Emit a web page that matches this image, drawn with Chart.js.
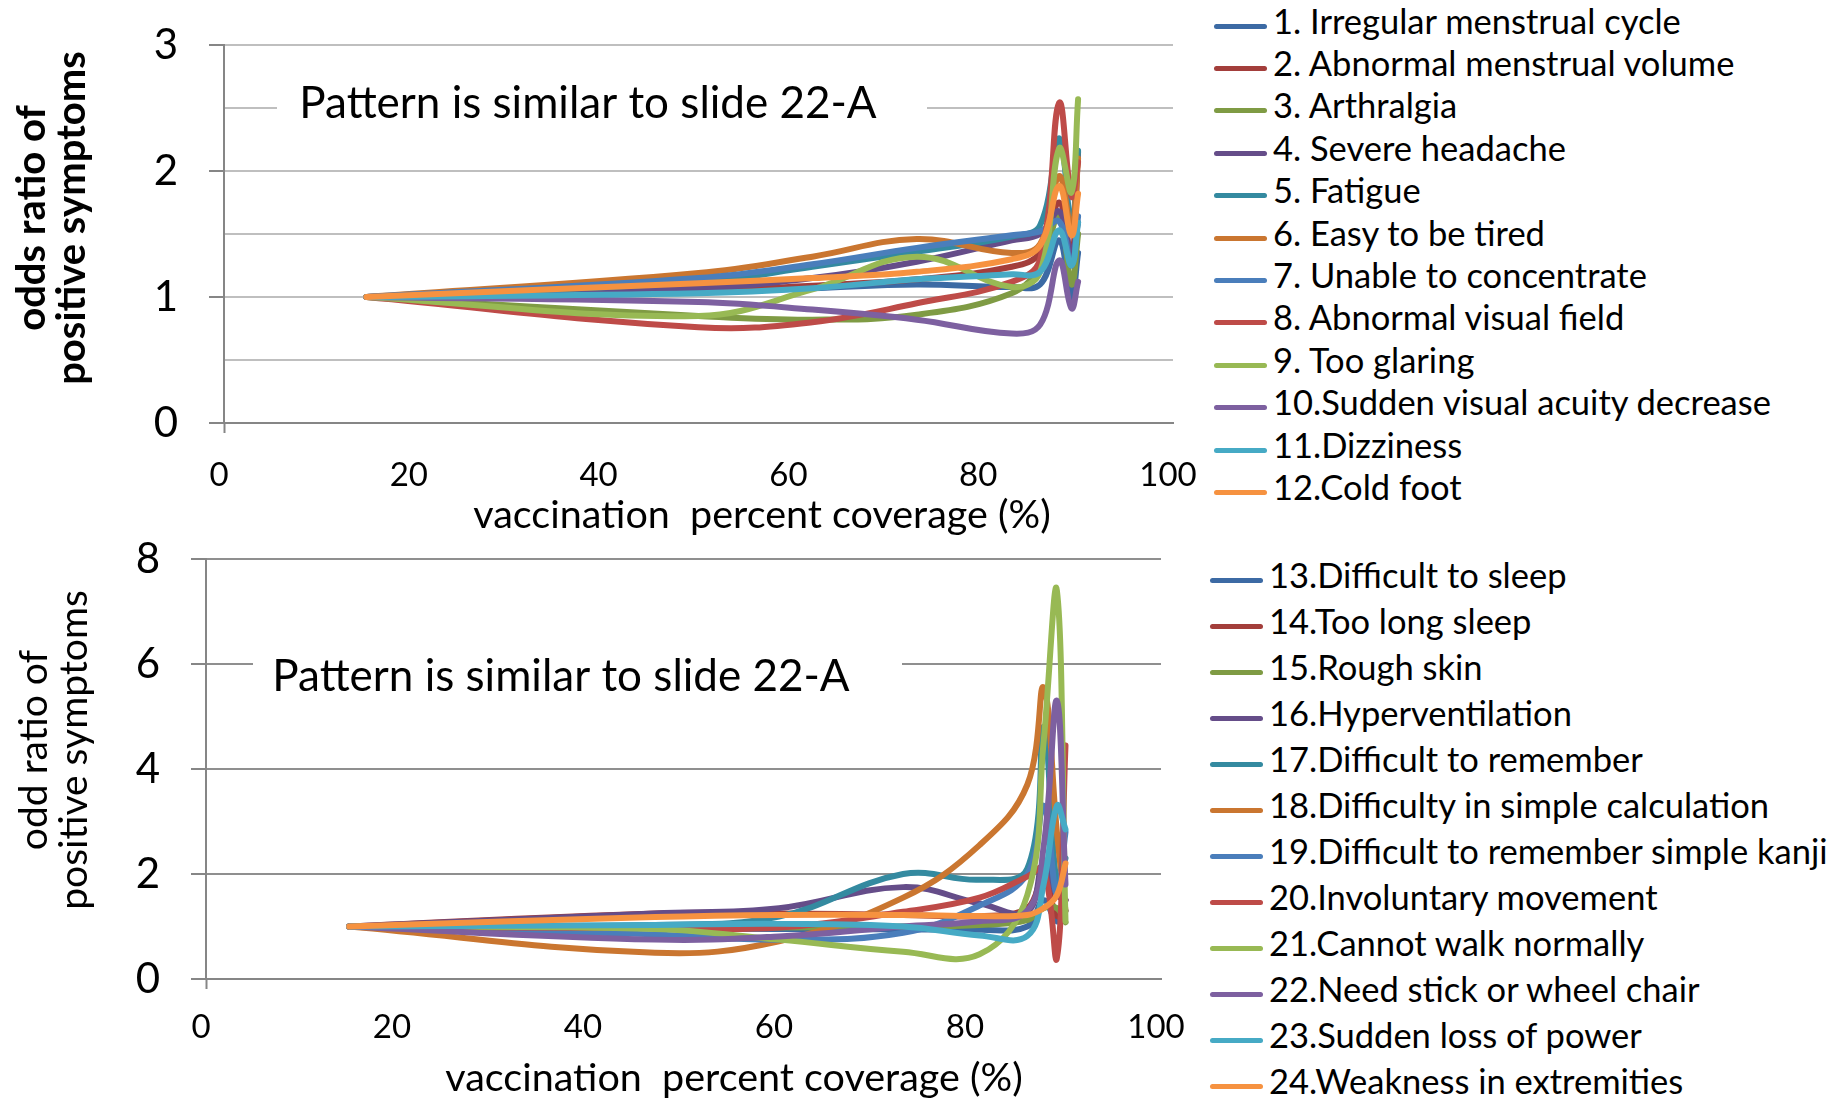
<!DOCTYPE html>
<html>
<head>
<meta charset="utf-8">
<script src="https://cdn.jsdelivr.net/npm/chart.js@4.4.0/dist/chart.umd.min.js"></script>
<style>
body { margin: 0; background: #fff; width: 1848px; height: 1104px; overflow: hidden; font-family: Lato, "Open Sans", sans-serif; }
canvas { position: absolute; left: 0; }
#topChart { top: 0; }
#botChart { top: 520px; }
.legend { position: absolute; }
.legend .item { display: flex; align-items: center; font-size: 34.5px; white-space: nowrap; color: #000; }
.legend .swatch { width: 53px; height: 5px; border-radius: 3px; margin-right: 6px; position: relative; top: 6px; }
</style>
</head>
<body>
<canvas id="topChart" width="1200" height="560"></canvas>
<canvas id="botChart" width="1200" height="584"></canvas>
<div class="legend" id="topLegend" style="left:1214px; top:-1px;"></div>
<div class="legend" id="botLegend" style="left:1210px; top:551px;"></div>
<script>
/* Data */
const top_x = [15, 50, 62, 73, 83, 86, 88, 89.3, 90];
const top_labels = [
    "1. Irregular menstrual cycle",
    "2. Abnormal menstrual volume",
    "3. Arthralgia",
    "4. Severe headache",
    "5. Fatigue",
    "6. Easy to be tired",
    "7. Unable to concentrate",
    "8. Abnormal visual field",
    "9. Too glaring",
    "10.Sudden visual acuity decrease",
    "11.Dizziness",
    "12.Cold foot"
];
const s1  = [1, 1.04, 1.07, 1.10, 1.08, 1.10, 1.45, 1.00, 1.35];
const s2  = [1, 1.05, 1.09, 1.14, 1.24, 1.35, 1.75, 1.30, 2.15];
const s3  = [1, 0.85, 0.82, 0.86, 1.03, 1.25, 1.65, 1.10, 1.50];
const s4  = [1, 1.07, 1.15, 1.28, 1.45, 1.50, 1.68, 1.35, 1.59];
const s5  = [1, 1.12, 1.24, 1.36, 1.48, 1.57, 2.26, 1.57, 2.16];
const s6  = [1, 1.19, 1.32, 1.46, 1.35, 1.42, 1.96, 1.54, 2.10];
const s7  = [1, 1.15, 1.26, 1.39, 1.49, 1.52, 1.60, 1.25, 1.64];
const s8  = [1, 0.76, 0.80, 0.95, 1.12, 1.30, 2.54, 1.80, 2.07];
const s9  = [1, 0.85, 1.06, 1.32, 1.08, 1.20, 2.18, 1.83, 2.57];
const s10 = [1, 0.96, 0.90, 0.82, 0.71, 0.78, 1.29, 0.91, 1.12];
const s11 = [1, 1.03, 1.07, 1.14, 1.18, 1.20, 1.53, 1.25, 1.59];
const s12 = [1, 1.11, 1.15, 1.20, 1.30, 1.41, 1.88, 1.49, 1.82];

const bot_x = [15, 47, 60, 73, 81, 86, 87.7, 89.1, 90];
const bot_labels = [
    "13.Difficult to sleep",
    "14.Too long sleep",
    "15.Rough skin",
    "16.Hyperventilation",
    "17.Difficult to remember",
    "18.Difficulty in simple calculation",
    "19.Difficult to remember simple kanji",
    "20.Involuntary movement",
    "21.Cannot walk normally",
    "22.Need stick or wheel chair",
    "23.Sudden loss of power",
    "24.Weakness in extremities"
];
const s13 = [1, 0.97, 0.95, 0.95, 0.94, 1.00, 1.50, 1.10, 1.30];
const s14 = [1, 1.25, 1.25, 1.22, 1.20, 1.35, 1.95, 1.20, 1.50];
const s15 = [1, 0.97, 0.98, 1.00, 1.03, 1.12, 1.35, 1.35, 1.08];
const s16 = [1, 1.25, 1.35, 1.75, 1.44, 1.28, 2.20, 1.60, 1.50];
const s17 = [1, 1.03, 1.19, 2.00, 1.89, 2.10, 4.80, 1.80, 2.30];
const s18 = [1, 0.50, 0.72, 1.55, 2.55, 3.70, 5.55, 2.80, 1.30];
const s19 = [1, 0.85, 0.75, 0.88, 1.40, 2.00, 3.30, 1.60, 2.80];
const s20 = [1, 0.97, 0.98, 1.28, 1.55, 1.95, 2.10, 0.40, 4.45];
const s21 = [1, 0.95, 0.75, 0.52, 0.47, 1.60, 4.50, 7.40, 1.10];
const s22 = [1, 0.75, 0.81, 1.00, 1.10, 1.30, 2.50, 5.30, 1.80];
const s23 = [1, 1.03, 1.05, 1.00, 0.83, 0.82, 1.80, 3.30, 2.85];
const s24 = [1, 1.18, 1.22, 1.22, 1.20, 1.22, 1.35, 1.60, 2.20];

const top_series = [s1, s2, s3, s4, s5, s6, s7, s8, s9, s10, s11, s12];
const bot_series = [s13, s14, s15, s16, s17, s18, s19, s20, s21, s22, s23, s24];

const colors = [
    '#3C6AA4', '#A33E3B', '#7F9B44', '#654D89', '#348AA0', '#CA7630',
    '#4A7EBB', '#BE4B48', '#98B954', '#7D60A0', '#46AAC5', '#F69240'
];

const FONT = 'Lato, "Open Sans", sans-serif';

/* Helpers */
function makeDatasets(xs, series, labels) {
    return series.map((vals, i) => ({
        label: labels[i],
        data: vals.map((v, j) => ({ x: xs[j], y: v })),
        borderColor: colors[i],
        backgroundColor: colors[i],
        borderWidth: 6,
        borderCapStyle: 'round',
        borderJoinStyle: 'round',
        pointRadius: 0,
        tension: 0.4,
        order: series.length - i
    }));
}

// note box, axis titles
const extras = {
    id: 'extras',
    beforeDatasetsDraw(chart) {
        const o = chart.options.plugins.extras;
        const ctx = chart.ctx;
        ctx.save();
        ctx.fillStyle = '#fff';
        ctx.fillRect(o.box[0], o.box[1], o.box[2] - o.box[0], o.box[3] - o.box[1]);
        ctx.fillStyle = '#000';
        ctx.font = '44px ' + FONT;
        ctx.textAlign = 'center';
        ctx.textBaseline = 'middle';
        ctx.fillText(o.note, o.noteXY[0], o.noteXY[1]);
        ctx.restore();
    },
    afterDraw(chart) {
        const o = chart.options.plugins.extras;
        const ctx = chart.ctx;
        ctx.save();
        ctx.fillStyle = '#000';
        ctx.textAlign = 'center';
        ctx.textBaseline = 'middle';
        ctx.font = '39.5px ' + FONT;
        ctx.fillText(o.xTitle, o.xTitleXY[0], o.xTitleXY[1]);
        ctx.font = o.yFont + ' ' + FONT;
        o.yTitle.forEach((line, i) => {
            ctx.save();
            ctx.translate(o.yTitleX[i], o.yTitleY);
            ctx.rotate(-Math.PI / 2);
            ctx.fillText(line, 0, 0);
            ctx.restore();
        });
        ctx.restore();
    }
};

function buildLegend(el, labels) {
    labels.forEach((txt, i) => {
        const item = document.createElement('div');
        item.className = 'item';
        item.style.height = el.dataset.h + 'px';
        const sw = document.createElement('span');
        sw.className = 'swatch';
        sw.style.background = colors[i];
        const t = document.createElement('span');
        t.textContent = txt;
        item.appendChild(sw);
        item.appendChild(t);
        el.appendChild(item);
    });
}

const clear = 'rgba(0,0,0,0)';

function makeChart(id, cfg) {
    return new Chart(id, {
        type: 'line',
        data: { datasets: makeDatasets(cfg.xs, cfg.series, cfg.labels) },
        options: {
            responsive: false,
            animation: false,
            layout: { padding: { left: 0, top: cfg.padTop, right: cfg.padRight, bottom: 0 } },
            scales: {
                x: {
                    type: 'linear',
                    min: 0,
                    max: 100,
                    ticks: { stepSize: 20, padding: cfg.xPad, labelOffset: -5, color: '#000', font: { family: FONT, size: 33 } },
                    grid: {
                        drawOnChartArea: false,
                        tickLength: 10,
                        tickWidth: 2,
                        tickColor: c => (c.tick && c.tick.value === 0 ? '#868686' : clear)
                    },
                    border: { display: true, color: '#868686', width: 2 },
                    afterFit: s => {
                        s.height = cfg.xHeight;
                        s.paddingLeft = 0;
                        s.paddingRight = 0;
                    }
                },
                y: {
                    min: 0,
                    max: cfg.yMax,
                    ticks: {
                        stepSize: cfg.yStep,
                        padding: 31,
                        color: '#000',
                        font: { family: FONT, size: 42 },
                        callback: v => (v % cfg.yLabelStep === 0 ? v : '')
                    },
                    grid: {
                        color: c => (c.tick && c.tick.value === 0 ? '#868686' : cfg.gridColor),
                        lineWidth: 2,
                        tickLength: 15,
                        tickColor: c => (c.tick && c.tick.value % cfg.yLabelStep === 0 ? '#868686' : clear),
                        tickWidth: 2
                    },
                    border: { display: true, color: '#868686', width: 2 },
                    afterFit: s => {
                        s.width = cfg.yWidth;
                        s.paddingTop = 0;
                        s.paddingBottom = 0;
                    }
                }
            },
            plugins: {
                legend: { display: false },
                tooltip: { enabled: false },
                extras: cfg.extras
            }
        },
        plugins: [extras]
    });
}

/* Create charts */
makeChart('topChart', {
    xs: top_x, series: top_series, labels: top_labels,
    padTop: 45, padRight: 27, xHeight: 137, yWidth: 224, xPad: 23,
    yMax: 3, yStep: 0.5, yLabelStep: 1, gridColor: '#BFBFBF',
    extras: {
        note: 'Pattern is similar to slide 22-A',
        box: [277, 75, 927, 135],
        noteXY: [588, 104],
        xTitle: 'vaccination  percent coverage (%)',
        xTitleXY: [762, 515],
        yTitle: ['odds ratio of', 'positive symptoms'],
        yTitleX: [32, 72],
        yTitleY: 218,
        yFont: 'bold 40px'
    }
});

makeChart('botChart', {
    xs: bot_x, series: bot_series, labels: bot_labels,
    padTop: 39, padRight: 39, xHeight: 125, yWidth: 206, xPad: 19,
    yMax: 8, yStep: 2, yLabelStep: 2, gridColor: '#8F8F8F',
    extras: {
        note: 'Pattern is similar to slide 22-A',
        box: [253, 127, 902, 187],
        noteXY: [561, 157],
        xTitle: 'vaccination  percent coverage (%)',
        xTitleXY: [734, 558],
        yTitle: ['odd ratio of', 'positive symptoms'],
        yTitleX: [34, 74],
        yTitleY: 230,
        yFont: '39px'
    }
});

const topLeg = document.getElementById('topLegend');
topLeg.dataset.h = 42.4;
buildLegend(topLeg, top_labels);
const botLeg = document.getElementById('botLegend');
botLeg.dataset.h = 46;
buildLegend(botLeg, bot_labels);
</script>
</body>
</html>
